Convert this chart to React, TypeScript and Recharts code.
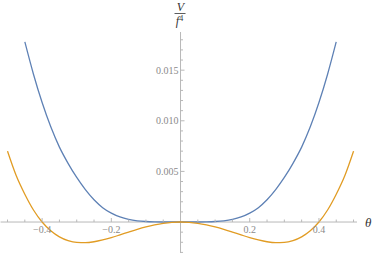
import React from 'react';
import { LineChart, Line, XAxis, YAxis, ReferenceLine, ReferenceDot } from 'recharts';

// theta samples and V/f^4
const thetaBlue = [
  -0.45, -0.425, -0.4, -0.375, -0.35, -0.325, -0.3, -0.275, -0.25, -0.225, -0.2, -0.175, -0.15, -0.125, -0.1, -0.075, -0.05, -0.025,
  0, 0.025, 0.05, 0.075, 0.1, 0.125, 0.15, 0.175, 0.2, 0.225, 0.25, 0.275, 0.3, 0.325, 0.35, 0.375, 0.4, 0.425, 0.45,
];
const blueValues = [
  0.0178, 0.0146, 0.0118, 0.0094, 0.0074, 0.0058, 0.0044, 0.0032, 0.0022, 0.00142, 0.00088, 0.0005, 0.00026, 0.00012, 0.00005, 0.000016, 0.000003, 0,
  0, 0, 0.000003, 0.000016, 0.00005, 0.00012, 0.00026, 0.0005, 0.00088, 0.00142, 0.0022, 0.0032, 0.0044, 0.0058, 0.0074, 0.0094, 0.0118, 0.0146, 0.0178,
];

const thetaOrange = [
  -0.5, -0.475, -0.45, -0.425, -0.4, -0.375, -0.35, -0.325, -0.3, -0.275, -0.25, -0.225, -0.2, -0.175, -0.15, -0.125, -0.1, -0.075, -0.05, -0.025,
  0, 0.025, 0.05, 0.075, 0.1, 0.125, 0.15, 0.175, 0.2, 0.225, 0.25, 0.275, 0.3, 0.325, 0.35, 0.375, 0.4, 0.425, 0.45, 0.475, 0.5,
];
const orangeValues = [
  0.007, 0.0046, 0.00275, 0.00119, 0, -0.00087, -0.00147, -0.00184, -0.00202, -0.00204, -0.00195, -0.00177, -0.00154, -0.00127, -0.00099, -0.00072, -0.00048, -0.00028, -0.000126, -0.00003,
  0, -0.00003, -0.000126, -0.00028, -0.00048, -0.00072, -0.00099, -0.00127, -0.00154, -0.00177, -0.00195, -0.00204, -0.00202, -0.00184, -0.00147, -0.00087, 0, 0.00119, 0.00275, 0.0046, 0.007,
];

const xMajorTicks = [-0.4, -0.2, 0.2, 0.4];
const xTickLabels = ['\u22120.4', '\u22120.2', '0.2', '0.4'];
const xMinorTicks = [-0.5, -0.45, -0.35, -0.3, -0.25, -0.15, -0.1, -0.05, 0.05, 0.1, 0.15, 0.25, 0.3, 0.35, 0.45, 0.5];
const yMajorTicks = [0.005, 0.01, 0.015];
const yTickLabels = ['0.005', '0.010', '0.015'];
const yMinorTicks = [-0.003, -0.002, -0.001, 0.001, 0.002, 0.003, 0.004, 0.006, 0.007, 0.008, 0.009, 0.011, 0.012, 0.013, 0.014, 0.016, 0.017, 0.018];

const xDomain = [-0.52, 0.51];
const yDomain = [-0.00306, 0.01877];

const blueData = thetaBlue.map((x, i) => ({ x, v: blueValues[i] }));
const orangeData = thetaOrange.map((x, i) => ({ x, v: orangeValues[i] }));

const axisColor = '#b8b8b8';
const serif = '"Liberation Serif", "DejaVu Serif", serif';

export default function App() {
  return (
    <div style={{ position: 'absolute', left: 0, top: 0, width: 374, height: 255, background: '#fff' }}>
      <LineChart width={374} height={255} margin={{ top: 32, right: 17, bottom: 2, left: 0.6 }}>
        <XAxis type="number" dataKey="x" domain={xDomain} hide allowDataOverflow />
        <YAxis type="number" domain={yDomain} hide allowDataOverflow />
        <ReferenceLine x={0} stroke={axisColor} strokeWidth={1} />
        <ReferenceLine
          y={0}
          stroke={axisColor}
          strokeWidth={1}
          label={{ value: '\u03b8', position: 'right', offset: 8, fontFamily: serif, fontStyle: 'italic', fontSize: 13, fill: '#333' }}
        />
        {xMinorTicks.map(t => (
          <ReferenceDot key={'xm' + t} x={t} y={0} ifOverflow="visible"
            shape={(p: any) => <line x1={p.cx} x2={p.cx} y1={p.cy} y2={p.cy - 2.5} stroke={axisColor} />} />
        ))}
        {xMajorTicks.map((t, i) => (
          <ReferenceDot key={'xM' + t} x={t} y={0} ifOverflow="visible"
            shape={(p: any) => (
              <g>
                <line x1={p.cx} x2={p.cx} y1={p.cy} y2={p.cy - 4} stroke={axisColor} />
                <text x={p.cx} y={p.cy + 10.5} textAnchor="middle" fontFamily={serif} fontSize={10} fill="#8a8a8a">{xTickLabels[i]}</text>
              </g>
            )} />
        ))}
        {yMinorTicks.map(t => (
          <ReferenceDot key={'ym' + t} x={0} y={t} ifOverflow="visible"
            shape={(p: any) => <line x1={p.cx} x2={p.cx + 2.5} y1={p.cy} y2={p.cy} stroke={axisColor} />} />
        ))}
        {yMajorTicks.map((t, i) => (
          <ReferenceDot key={'yM' + t} x={0} y={t} ifOverflow="visible"
            shape={(p: any) => (
              <g>
                <line x1={p.cx} x2={p.cx + 4} y1={p.cy} y2={p.cy} stroke={axisColor} />
                <text x={p.cx - 2} y={p.cy + 3.5} textAnchor="end" fontFamily={serif} fontSize={10} fill="#8a8a8a">{yTickLabels[i]}</text>
              </g>
            )} />
        ))}
        <ReferenceDot x={0} y={yDomain[1]} ifOverflow="visible"
          shape={(p: any) => (
            <g fontFamily={serif} fontStyle="italic" fontSize={12} fill="#333">
              <text x={p.cx} y={p.cy - 21} textAnchor="middle">V</text>
              <line x1={p.cx - 6} x2={p.cx + 5} y1={p.cy - 18.5} y2={p.cy - 18.5} stroke="#333" strokeWidth={0.8} />
              <text x={p.cx - 1} y={p.cy - 7.5} textAnchor="middle">f<tspan dy={-4} fontSize={8} fontStyle="normal">4</tspan></text>
            </g>
          )} />
        <Line data={blueData} dataKey="v" type="monotone" stroke="#5e81b5" strokeWidth={1.3} dot={false} isAnimationActive={false} />
        <Line data={orangeData} dataKey="v" type="monotone" stroke="#e19c24" strokeWidth={1.3} dot={false} isAnimationActive={false} />
      </LineChart>
    </div>
  );
}
